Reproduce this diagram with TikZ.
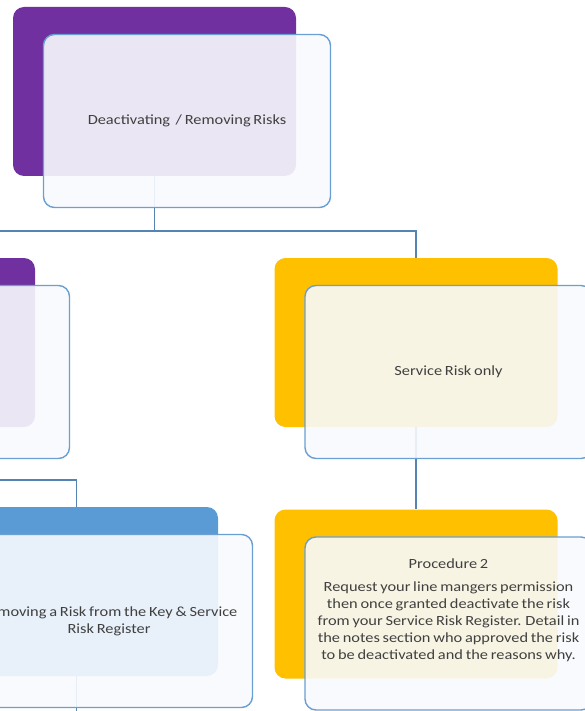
\documentclass[tikz,border=0pt]{standalone}
\usepackage{fontspec}
\setmainfont{Carlito}[FakeStretch=1.17, WordSpace=0.75]
\usetikzlibrary{positioning}
\definecolor{riskpurple}{HTML}{7030A0}
\definecolor{riskyellow}{HTML}{FFC000}
\definecolor{riskblue}{HTML}{5B9BD5}
\definecolor{edgeblue}{HTML}{6A9FD2}
\definecolor{linkblue}{HTML}{5583B4}
\definecolor{paleface}{HTML}{F8FAFD}
\definecolor{textgrey}{HTML}{404040}
\tikzstyle{backbox} = [rectangle, rounded corners=11pt, minimum width=283pt, minimum height=169pt, inner sep=0pt]
\tikzstyle{frontbox} = [rectangle, rounded corners=11pt, minimum width=287pt, minimum height=173pt, inner sep=0pt, draw=edgeblue, line width=1.4pt, fill=paleface, fill opacity=0.9, text opacity=1, text=textgrey, align=center, font=\fontsize{14}{17}\selectfont]
\tikzstyle{boxtext} = [text=textgrey, align=center, font=\fontsize{14}{17}\selectfont]
\tikzstyle{link} = [draw=linkblue, line width=1.8pt]

\begin{document}
\begin{tikzpicture}[x=1pt, y=1pt]
\useasboundingbox (0,0) rectangle (585,-711);
\clip (0,0) rectangle (585,-711);

% back boxes
\node (topback) [backbox, fill=riskpurple] at (154.5,-91.5) {};
\node (keyback) [backbox, fill=riskpurple] at (-106.5,-342.5) {};
\node (servback) [backbox, fill=riskyellow] at (416,-342.5) {};
\node (bothback) [backbox, fill=riskblue] at (76.5,-591.5) {};
\node (procback) [backbox, fill=riskyellow] at (416,-594) {};

% connectors
\coordinate (tophub) at ([yshift=-55pt]topback.south);
\coordinate (keyhub) at ([yshift=-53pt]keyback.south);
\coordinate (bothend) at ([yshift=-40pt]bothback.south);
\draw [link] (topback.south) -- (tophub) -| (keyback.north);
\draw [link] (tophub) -| (servback.north);
\draw [link] (keyback.south) -- (keyhub) -| (bothback.north);
\draw [link] (bothback.south) -- (bothend);
\draw [link] (servback.south) -- (procback.north);

% front boxes
\node (topfront) [frontbox, below right=27pt and 30pt of topback.north west] {Deactivating~ / Removing Risks};
\node (keyfront) [frontbox, below right=27pt and 30pt of keyback.north west] {};
\node (servfront) [frontbox, below right=27pt and 30pt of servback.north west] {Service Risk only};
\node (bothfront) [frontbox, below right=27pt and 30pt of bothback.north west] {Removing a Risk from the Key \& Service\\Risk Register};
\node (procfront) [frontbox, below right=27pt and 30pt of procback.north west] {};
\node (proctext) [boxtext] at ([yshift=13pt]procfront.center) {Procedure 2\\[6pt]Request your line mangers permission\\then once granted deactivate the risk\\from your Service Risk Register. Detail in\\the notes section who approved the risk\\to be deactivated and the reasons why.};

\end{tikzpicture}
\end{document}
